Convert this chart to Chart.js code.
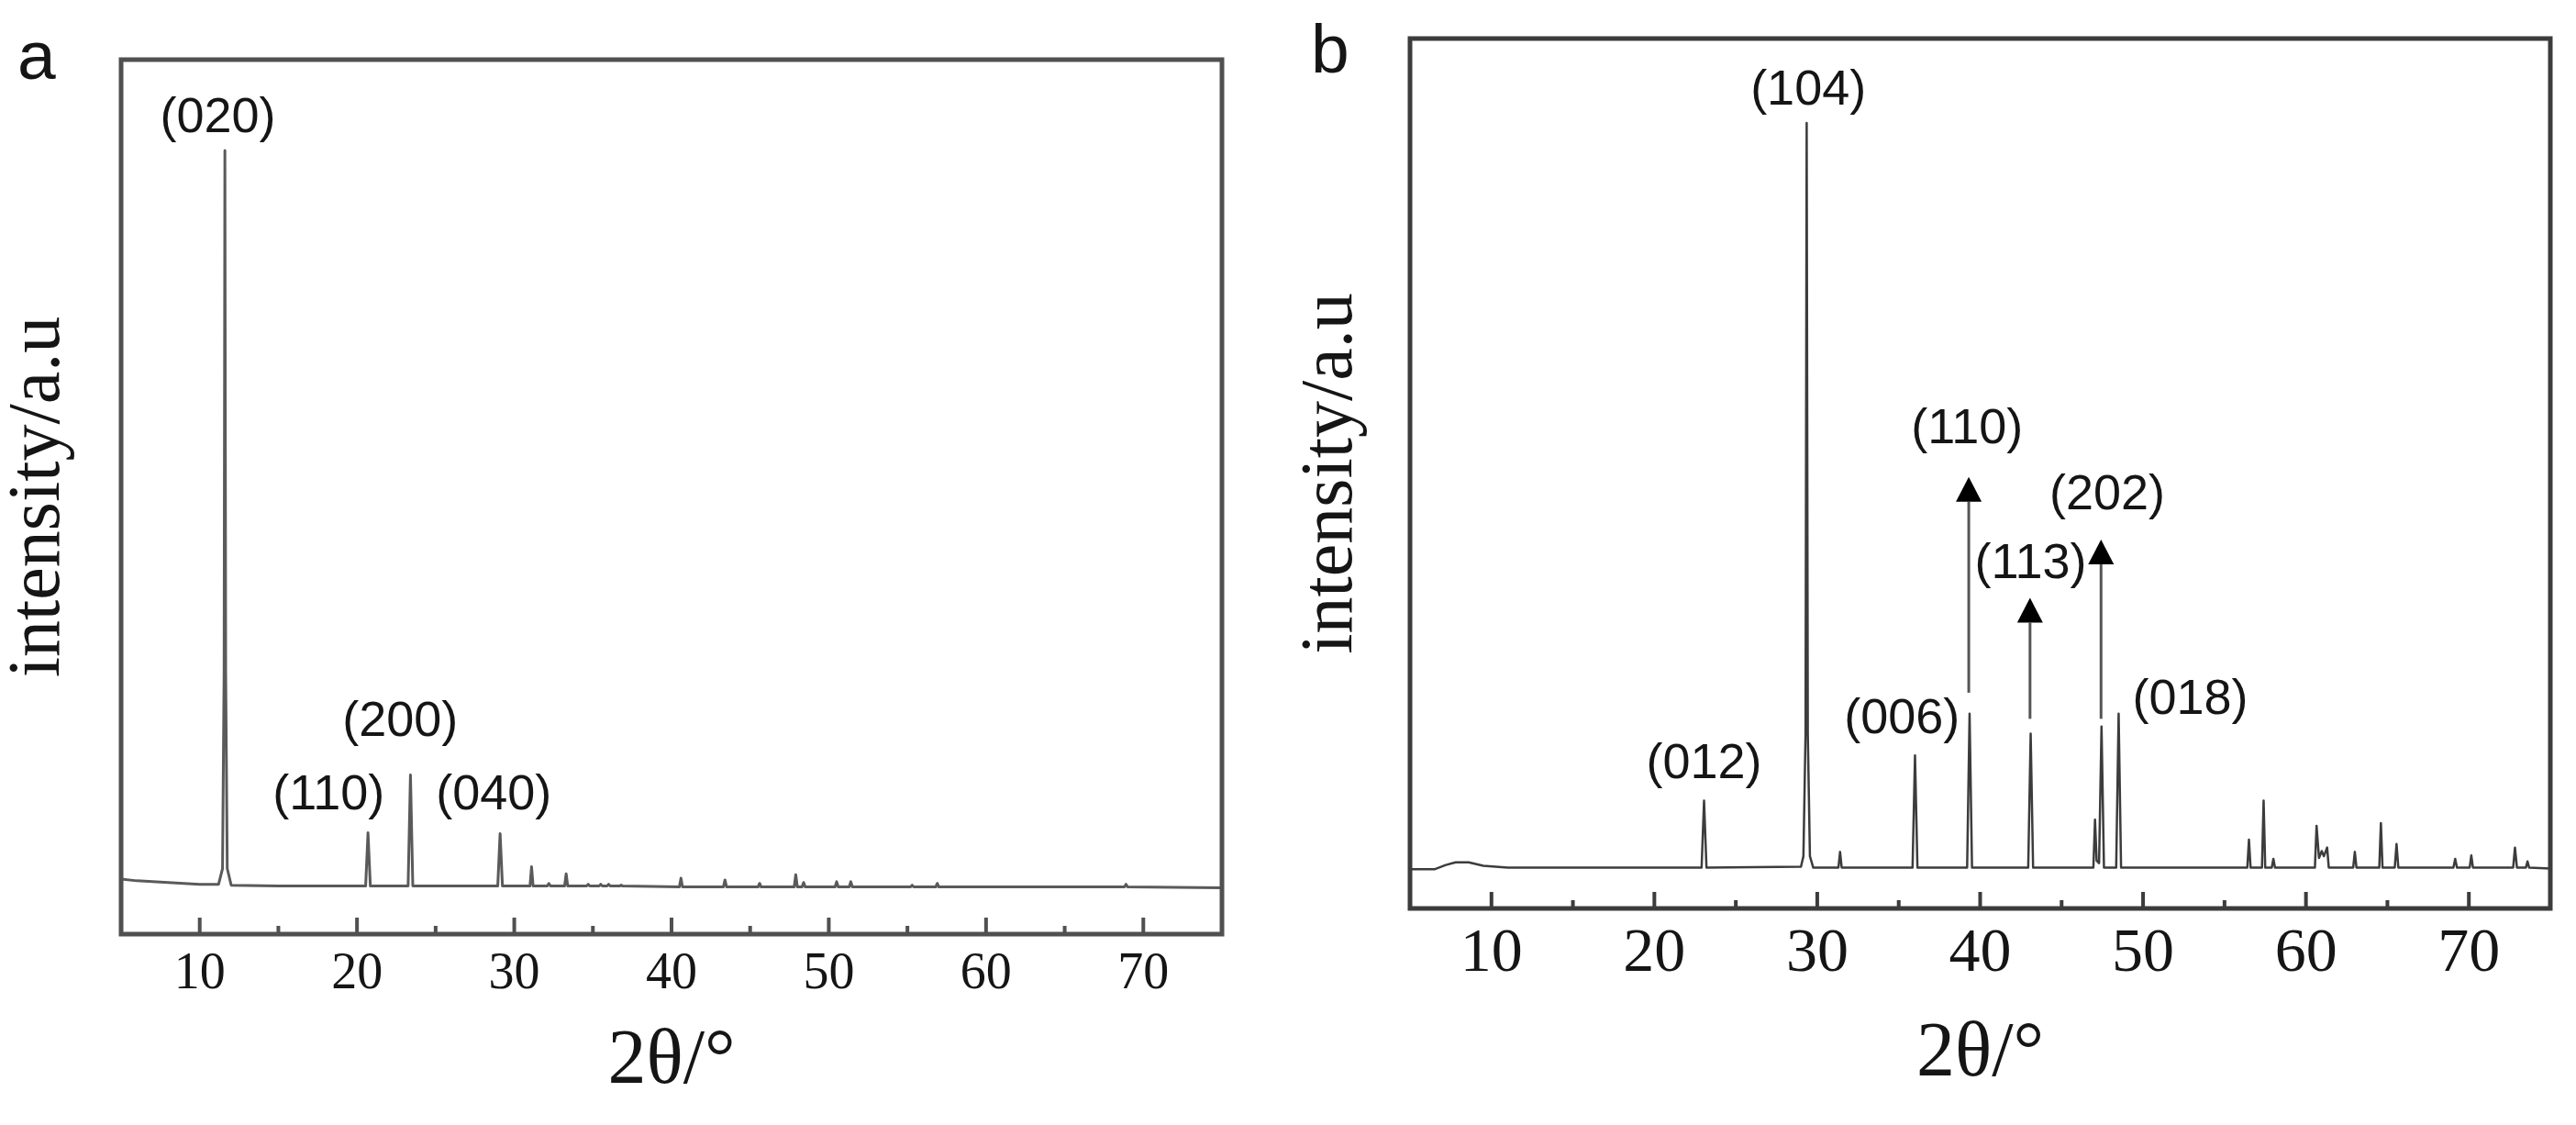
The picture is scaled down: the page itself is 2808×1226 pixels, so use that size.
<!DOCTYPE html>
<html>
<head>
<meta charset="utf-8">
<script src="https://cdn.jsdelivr.net/npm/chart.js@4.4.1/dist/chart.umd.min.js"></script>
<style>
  html, body { margin: 0; padding: 0; background: #fff; }
  .panel { position: absolute; top: 0; width: 1404px; height: 1226px; }
  #panelA { left: 0; }
  #panelB { left: 1404px; }
</style>
</head>
<body>
<div class="panel" id="panelA"><canvas id="chartA"></canvas></div>
<div class="panel" id="panelB"><canvas id="chartB"></canvas></div>
<script>
// shared x axis ticks (2θ in degrees)
const majorTicks = [10, 20, 30, 40, 50, 60, 70];
const minorTicks = [15, 25, 35, 45, 55, 65];

// panel a: pattern (2θ, intensity a.u.)
const thetaA = [
  5.0, 6.0, 7.0, 8.0, 9.0, 10.0,
  11.2, 11.45, 11.55, 11.6, 11.65, 11.75, 12.0,
  15.0,
  20.55, 20.7, 20.85,
  23.25, 23.4, 23.55,
  28.95, 29.1, 29.25,
  31.0, 31.1, 31.2,
  32.1, 32.2, 32.3,
  33.2, 33.3, 33.4,
  34.6, 34.7, 34.8,
  35.4, 35.5, 35.6,
  35.9, 36.0, 36.1,
  36.7, 36.8, 36.9,
  40.5, 40.6, 40.7,
  43.3, 43.4, 43.5,
  45.5, 45.6, 45.7,
  47.8, 47.9, 48.0,
  48.3, 48.4, 48.5,
  50.4, 50.5, 50.6,
  51.3, 51.4, 51.5,
  55.2, 55.3, 55.4,
  56.8, 56.9, 57.0,
  68.8, 68.9, 69.0,
  75.0
];
const intensityA = [
  63, 61, 60, 59, 58, 57,
  57, 75, 300, 896, 300, 75, 56,
  55,
  55, 116, 55,
  55, 182, 55,
  55, 115, 55,
  55, 77, 55,
  55, 58, 55,
  55, 69, 55,
  55, 57, 55,
  55, 57, 55,
  55, 57, 55,
  55, 56, 55,
  54, 64, 54,
  54, 62, 54,
  54, 58, 54,
  54, 68, 54,
  54, 59, 54,
  54, 60, 54,
  54, 60, 54,
  54, 56, 54,
  54, 58, 54,
  54, 57, 54,
  53
];
const peakLabelsA = ['(020)', '(110)', '(200)', '(040)'];
const peakLabelThetaA = [11.15, 18.2, 22.75, 28.7];
const peakLabelHeightA = [933, 158, 242, 158];

// panel b
const thetaB = [
  5.0, 6.5, 7.2, 7.8, 8.6, 9.5, 11.0,
  22.9, 23.05, 23.2,
  29.0, 29.15, 29.28, 29.35, 29.42, 29.55, 29.75,
  31.3, 31.4, 31.5,
  35.85, 36.0, 36.15,
  39.2, 39.35, 39.5,
  42.95, 43.1, 43.25,
  46.95, 47.05, 47.15, 47.3, 47.45, 47.6,
  48.35, 48.5, 48.65,
  56.4, 56.5, 56.6,
  57.3, 57.4, 57.5,
  57.9, 58.0, 58.1,
  60.55, 60.65, 60.8, 60.97, 61.1, 61.3, 61.4,
  62.9, 63.0, 63.1,
  64.5, 64.6, 64.7,
  65.45, 65.56, 65.67,
  69.05, 69.16, 69.27,
  70.05, 70.15, 70.25,
  72.72, 72.83, 72.95,
  73.5, 73.6, 73.7,
  75.0
];
const intensityB = [
  45, 45, 50, 53, 53, 49, 47,
  47, 124, 47,
  48, 60, 200, 903, 200, 60, 47,
  47, 65, 47,
  47, 176, 47,
  47, 224, 47,
  47, 201, 47,
  47, 102, 55, 52, 209, 47,
  47, 224, 47,
  47, 79, 47,
  47, 124, 47,
  47, 57, 47,
  47, 95, 58, 66, 60, 70, 47,
  47, 65, 47,
  47, 98, 47,
  47, 74, 47,
  47, 57, 47,
  47, 61, 47,
  47, 70, 47,
  47, 54, 47,
  46
];
const peakLabelsB = ['(104)', '(110)', '(113)', '(202)', '(006)', '(012)', '(018)'];
const peakLabelThetaB = [29.45, 39.2, 43.1, 47.8, 35.2, 23.05, 52.9];
const peakLabelHeightB = [940, 551, 395, 475, 217, 165, 239];
const arrowThetaB = [39.3, 43.06, 47.42];
const arrowFromB = [248, 218, 218];
const arrowTipB = [496, 357, 424];

const serif = '"Liberation Serif", "Times New Roman", serif';
const sans = '"Liberation Sans", Arial, sans-serif';
const ink = '#151515';

const decor = {
    id: 'decor',
    afterDatasetsDraw(chart, args, opts) {
        const ctx = chart.ctx;
        const area = chart.chartArea;
        const xs = chart.scales.x;
        const ys = chart.scales.y;
        ctx.save();

        // arrows pointing at peaks
        (opts.arrowTheta || []).forEach((t, i) => {
            const px = xs.getPixelForValue(t);
            const y0 = ys.getPixelForValue(opts.arrowFrom[i]);
            const y1 = ys.getPixelForValue(opts.arrowTip[i]);
            const head = 27;
            ctx.strokeStyle = '#555';
            ctx.lineWidth = 3;
            ctx.beginPath();
            ctx.moveTo(px, y0);
            ctx.lineTo(px, y1 + head);
            ctx.stroke();
            ctx.fillStyle = '#000';
            ctx.beginPath();
            ctx.moveTo(px, y1);
            ctx.lineTo(px - 14, y1 + head);
            ctx.lineTo(px + 14, y1 + head);
            ctx.closePath();
            ctx.fill();
        });

        // box round the plot
        ctx.strokeStyle = opts.frameColor;
        ctx.lineWidth = 5;
        ctx.strokeRect(area.left, area.top, area.right - area.left, area.bottom - area.top);

        // inward ticks on the bottom axis
        ctx.lineWidth = 4;
        ctx.beginPath();
        majorTicks.forEach(v => {
            const px = xs.getPixelForValue(v);
            ctx.moveTo(px, area.bottom);
            ctx.lineTo(px, area.bottom - 18);
        });
        minorTicks.forEach(v => {
            const px = xs.getPixelForValue(v);
            ctx.moveTo(px, area.bottom);
            ctx.lineTo(px, area.bottom - 9);
        });
        ctx.stroke();

        // peak labels
        ctx.fillStyle = ink;
        ctx.font = '54px ' + sans;
        ctx.textAlign = 'center';
        ctx.textBaseline = 'middle';
        opts.labels.forEach((s, i) => {
            ctx.fillText(s, xs.getPixelForValue(opts.labelTheta[i]), ys.getPixelForValue(opts.labelHeight[i]));
        });

        // panel letter
        ctx.font = '75px ' + sans;
        ctx.textAlign = 'left';
        ctx.textBaseline = 'alphabetic';
        ctx.fillText(opts.letter, opts.letterX, opts.letterY);
        ctx.restore();
    }
};

function makeChart(id, p) {
    const points = p.theta.map((t, i) => ({ x: t, y: p.intensity[i] }));
    return new Chart(document.getElementById(id), {
        type: 'line',
        data: {
            datasets: [{
                data: points,
                borderColor: p.lineColor,
                borderWidth: p.lineWidth,
                borderJoinStyle: 'round',
                pointRadius: 0,
                tension: 0,
                fill: false,
            }]
        },
        plugins: [decor],
        options: {
            responsive: true,
            maintainAspectRatio: false,
            animation: false,
            layout: { padding: p.padding },
            plugins: {
                legend: { display: false },
                tooltip: { enabled: false },
                decor: {
                    labels: p.labels,
                    labelTheta: p.labelTheta,
                    labelHeight: p.labelHeight,
                    arrowTheta: p.arrowTheta,
                    arrowFrom: p.arrowFrom,
                    arrowTip: p.arrowTip,
                    letter: p.letter,
                    letterX: p.letterX,
                    letterY: p.letterY,
                    frameColor: p.frameColor,
                },
            },
            scales: {
                x: {
                    type: 'linear',
                    min: 5,
                    max: 75,
                    afterBuildTicks: s => { s.ticks = majorTicks.map(v => ({ value: v })); },
                    afterFit: s => { s.height = p.xHeight; },
                    ticks: {
                        font: { family: serif, size: p.tickSize, lineHeight: 1 },
                        color: ink,
                        padding: p.tickPad,
                        maxRotation: 0,
                        autoSkip: false,
                    },
                    grid: { display: false, drawTicks: false },
                    border: { display: false },
                    title: {
                        display: true,
                        text: '2θ/°',
                        color: ink,
                        font: { family: serif, size: 84, lineHeight: 1 },
                        padding: { top: 0, bottom: p.xTitlePad },
                    },
                },
                y: {
                    min: 0,
                    max: 1000,
                    afterFit: s => { s.width = p.yWidth; },
                    ticks: { display: false },
                    grid: { display: false, drawTicks: false },
                    border: { display: false },
                    title: {
                        display: true,
                        text: 'intensity/a.u',
                        color: ink,
                        font: { family: serif, size: 80, lineHeight: 1 },
                        padding: { top: p.yTitlePad, bottom: 0 },
                    },
                },
            },
        },
    });
}

makeChart('chartA', {
    theta: thetaA,
    intensity: intensityA,
    lineColor: '#5a5a5a',
    lineWidth: 3,
    padding: { left: 0, top: 65, right: 72, bottom: 17 },
    xHeight: 191,
    yWidth: 132,
    tickSize: 56,
    tickPad: 16,
    xTitlePad: 9,
    yTitlePad: 3,
    labels: peakLabelsA,
    labelTheta: peakLabelThetaA,
    labelHeight: peakLabelHeightA,
    letter: 'a',
    letterX: 19,
    letterY: 86,
    frameColor: '#505050',
});

makeChart('chartB', {
    theta: thetaB,
    intensity: intensityB,
    lineColor: '#3c3c3c',
    lineWidth: 2.5,
    padding: { left: 0, top: 42, right: 28, bottom: 26 },
    xHeight: 210,
    yWidth: 133,
    tickSize: 68,
    tickPad: 16,
    xTitlePad: 8,
    yTitlePad: 8,
    labels: peakLabelsB,
    labelTheta: peakLabelThetaB,
    labelHeight: peakLabelHeightB,
    arrowTheta: arrowThetaB,
    arrowFrom: arrowFromB,
    arrowTip: arrowTipB,
    letter: 'b',
    letterX: 25,
    letterY: 79,
    frameColor: '#3c3c3c',
});
</script>
</body>
</html>
